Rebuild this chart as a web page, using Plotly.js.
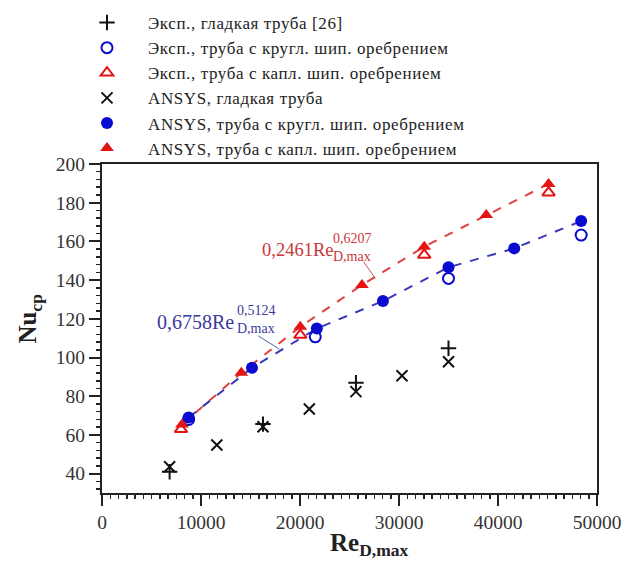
<!DOCTYPE html>
<html><head><meta charset="utf-8">
<script src="https://cdn.plot.ly/plotly-3.0.1.min.js"></script>
<style>html,body{margin:0;padding:0;background:#fff}#chart{width:623px;height:576px}
.legendtext{letter-spacing:0.6px}</style>
</head><body><div id="chart"></div>
<script>
// Data
const seriesNames = [
  "Эксп., гладкая труба [26]",
  "Эксп., труба с кругл. шип. оребрением",
  "Эксп., труба с капл. шип. оребрением",
  "ANSYS, гладкая труба",
  "ANSYS, труба с кругл. шип. оребрением",
  "ANSYS, труба с капл. шип. оребрением"
];
const expSmoothRe = [6830, 16260, 25650, 35000];
const expSmoothNu = [41, 65.6, 87, 104.8];
const expRoundRe = [8750, 21540, 35000, 48400];
const expRoundNu = [68, 110.7, 140.9, 163.3];
const expDropRe = [7980, 20030, 32550, 45110];
const expDropNu = [62.9, 111.6, 153, 185.2];
const ansSmoothRe = [6830, 11600, 16260, 20940, 25650, 30300, 35000];
const ansSmoothNu = [43.6, 54.8, 64.2, 73.4, 82.4, 90.6, 97.8];
const ansRoundRe = [8750, 15150, 21700, 28380, 35000, 41640, 48400];
const ansRoundNu = [69, 94.7, 115, 129.2, 146.6, 156.4, 170.5];
const ansDropRe = [8080, 14070, 20030, 26260, 32550, 38810, 45110];
const ansDropNu = [65.4, 92.1, 115.9, 137.5, 157.3, 173.6, 189.7];
const xTickVals = [0, 10000, 20000, 30000, 40000, 50000];
const xTickText = ["0", "10000", "20000", "30000", "40000", "50000"];
const yTickVals = [40, 60, 80, 100, 120, 140, 160, 180, 200];
const yTickText = ["40", "60", "80", "100", "120", "140", "160", "180", "200"];
const xTitle = "<b>Re<sub>D,max</sub></b>";
const yTitle = "<b>Nu<sub>cp</sub></b>";

// minor tick positions (axis decoration)
const xMinor = [], yMinor = [];
for (let i = 1; i < 60; i++) if (i % 12) xMinor.push(i * 10000 / 12);
for (let v = 32; v < 200; v += 4) if (v % 20) yMinor.push(v);

const F = "Liberation Serif, Times New Roman, serif";
const BLUE = "#0a0ad0", RED = "#e31414";
const XR = [0, 50000], YR = [30, 200];

const traces = [
  {x: ansDropRe, y: ansDropNu, mode: "lines", line: {color: "#e04040", dash: "dash", width: 2}, showlegend: false, hoverinfo: "skip"},
  {x: ansRoundRe, y: ansRoundNu, mode: "lines", line: {color: "#3838b8", dash: "dash", width: 2}, showlegend: false, hoverinfo: "skip"},
  {name: seriesNames[0], x: expSmoothRe, y: expSmoothNu, mode: "markers",
   marker: {symbol: "cross-thin-open", size: 11, color: "#111", line: {color: "#111", width: 2}}},
  {name: seriesNames[1], x: expRoundRe, y: expRoundNu, mode: "markers",
   marker: {symbol: "circle-open", size: 11, color: BLUE, line: {color: BLUE, width: 2}}},
  {name: seriesNames[2], x: expDropRe, y: expDropNu, mode: "markers",
   marker: {symbol: "triangle-up-open", size: 11, color: RED, line: {color: RED, width: 2}}},
  {name: seriesNames[3], x: ansSmoothRe, y: ansSmoothNu, mode: "markers",
   marker: {symbol: "x-thin-open", size: 11, color: "#111", line: {color: "#111", width: 2}}},
  {name: seriesNames[4], x: ansRoundRe, y: ansRoundNu, mode: "markers",
   marker: {symbol: "circle", size: 12, color: BLUE}},
  {name: seriesNames[5], x: ansDropRe, y: ansDropNu, mode: "markers",
   marker: {symbol: "triangle-up", size: 12, color: RED}},
  // invisible helper trace so the minor-tick overlay axes are drawn
  {x: ansRoundRe, y: ansRoundNu, xaxis: "x2", yaxis: "y2", mode: "markers", marker: {opacity: 0},
   showlegend: false, hoverinfo: "skip"}
];

const layout = {
  width: 623, height: 576,
  margin: {l: 102, r: 26, t: 164, b: 83, autoexpand: false},
  paper_bgcolor: "#fff", plot_bgcolor: "#fff",
  font: {family: F, color: "#222", size: 16},
  showlegend: true,
  legend: {xref: "container", yref: "container", x: 66/623, y: 1 - 5/576, xanchor: "left", yanchor: "top",
           bgcolor: "rgba(0,0,0,0)", font: {family: F, size: 17, color: "#222"}, itemwidth: 72, tracegroupgap: 0},
  xaxis: {range: XR, tickmode: "array", tickvals: xTickVals, ticktext: xTickText, ticks: "outside", ticklen: 11, tickwidth: 2,
          showgrid: false, zeroline: false, showline: true, linewidth: 2, linecolor: "#222", mirror: true,
          tickcolor: "#222", tickfont: {family: F, size: 19.5, color: "#333"}},
  yaxis: {range: YR, tickmode: "array", tickvals: yTickVals, ticktext: yTickText, ticks: "outside", ticklen: 11, tickwidth: 2,
          showgrid: false, zeroline: false, showline: true, linewidth: 2, linecolor: "#222", mirror: true,
          tickcolor: "#222", tickfont: {family: F, size: 19.5, color: "#333"}},
  xaxis2: {range: XR, overlaying: "x", anchor: "y", side: "bottom", tickmode: "array", tickvals: xMinor,
           showticklabels: false, ticks: "outside", ticklen: 5, tickwidth: 1.5, tickcolor: "#222",
           showgrid: false, zeroline: false, showline: false},
  yaxis2: {range: YR, overlaying: "y", anchor: "x", side: "left", tickmode: "array", tickvals: yMinor,
           showticklabels: false, ticks: "outside", ticklen: 5, tickwidth: 1.5, tickcolor: "#222",
           showgrid: false, zeroline: false, showline: false},
  annotations: [
    {xref: "paper", yref: "paper", x: 0.539, y: -0.158, xanchor: "center", yanchor: "middle", showarrow: false,
     text: xTitle, font: {family: F, size: 25, color: "#222"}},
    {xref: "paper", yref: "paper", x: -0.1455, y: 0.53, xanchor: "center", yanchor: "middle", showarrow: false,
     textangle: -90, text: yTitle, font: {family: F, size: 25, color: "#222"}},
    {xref: "x", yref: "y", x: 5380, y: 118.3, xanchor: "left", yanchor: "middle", showarrow: false,
     text: "0,6758Re", font: {family: F, size: 20, color: "#3a3aa0"}},
    {xref: "x", yref: "y", x: 13460, y: 119.4, xanchor: "left", yanchor: "middle", showarrow: false, align: "left",
     text: "0,5124<br>D,max", font: {family: F, size: 14, color: "#3a3aa0"}},
    {xref: "x", yref: "y", x: 15990, y: 155.6, xanchor: "left", yanchor: "middle", showarrow: false,
     text: "0,2461Re", font: {family: F, size: 18.5, color: "#c83838"}},
    {xref: "x", yref: "y", x: 23160, y: 156.8, xanchor: "left", yanchor: "middle", showarrow: false, align: "left",
     text: "0,6207<br>D,max", font: {family: F, size: 14, color: "#c83838"}}
  ],
  shapes: [
    {type: "line", xref: "x", yref: "y", x0: 15800, y0: 111.1, x1: 17900, y1: 104.4, line: {color: "#5060a0", width: 1}},
    {type: "line", xref: "x", yref: "y", x0: 26420, y0: 149.5, x1: 27610, y1: 140.9, line: {color: "#c05050", width: 1}}
  ]
};
Plotly.newPlot("chart", traces, layout, {displayModeBar: false, staticPlot: true});
</script></body></html>
